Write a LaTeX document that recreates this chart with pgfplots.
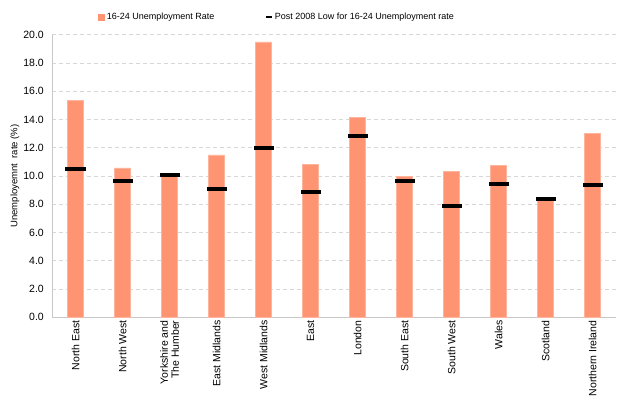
\documentclass[border=0pt]{standalone}
\usepackage{pgfplots}
\pgfplotsset{compat=1.18}
\usepackage{fontspec}
\setmainfont{Liberation Sans}
\definecolor{barc}{RGB}{255,148,115}
\definecolor{gridc}{RGB}{215,215,215}
\definecolor{axc}{RGB}{200,200,200}
\begin{document}
\fontsize{9pt}{11pt}\selectfont
\begin{tikzpicture}
\begin{axis}[
  scale only axis,
  width=564pt, height=282.6pt,
  xmin=-0.5, xmax=11.5,
  ymin=0, ymax=20,
  ytick={0,2,...,20},
  xtick={0,...,11},
  xticklabels={North East,North West,{Yorkshire and\\The Humber},East Midlands,West Midlands,East,London,South East,South West,Wales,Scotland,Northern  Ireland},
  xticklabel style={rotate=90, anchor=east, align=right, font=\fontsize{10.5pt}{11pt}\selectfont},
  yticklabel style={font=\fontsize{10.5pt}{12pt}\selectfont, xshift=-5pt},
  /pgf/number format/assume math mode=true,
  yticklabel={\pgfmathprintnumber[fixed,fixed zerofill,precision=1]{\tick}},
  axis x line*=bottom, axis y line*=left,
  axis line style={axc, line width=0.8pt},
  x axis line style={-},
  y axis line style={-},
  major tick length=0pt,
  ymajorgrids,
  grid style={gridc, dashed, line width=0.6pt, dash pattern=on 4pt off 3pt},
  ylabel={Unemployemnt\ \ rate (\%)},
  ylabel style={at={(axis description cs:-0.0656,0.5)}, anchor=center, font=\fontsize{9.5pt}{11pt}\selectfont},
  legend columns=2,
  legend style={draw=none, at={(rel axis cs:0.082,1.063)}, anchor=west, font=\fontsize{9pt}{11pt}\selectfont,
    /tikz/every even column/.append style={column sep=48pt}, inner sep=0pt},
  legend cell align=left,
  clip=false,
]
\addplot[ybar, bar width=15.7pt, fill=barc, draw=barc!70!white, line width=0.4pt,
  legend image code/.code={\fill[barc] (0pt,-3pt) rectangle (6pt,3pt);}]
  coordinates {(0,15.33) (1,10.57) (2,10.0) (3,11.5) (4,19.5) (5,10.83) (6,14.15) (7,9.98) (8,10.33) (9,10.76) (10,8.3) (11,13.02)};
\addlegendentry{16-24 Unemployment Rate}
\addplot[only marks, mark=-, mark size=10pt, mark options={line width=4pt, black},
  legend image code/.code={\draw[black, line width=2.5pt] (0pt,0pt) -- (6pt,0pt);}]
  coordinates {(0,10.5) (1,9.65) (2,10.07) (3,9.08) (4,11.98) (5,8.87) (6,12.83) (7,9.65) (8,7.9) (9,9.43) (10,8.37) (11,9.36)};
\addlegendentry{Post 2008 Low for 16-24 Unemployment rate}
\coordinate (bl) at (rel axis cs:0,0);
\end{axis}
\pgfresetboundingbox
\path (bl) ++(-52pt,-81.7pt) rectangle ++(617pt,399pt);
\end{tikzpicture}
\end{document}
